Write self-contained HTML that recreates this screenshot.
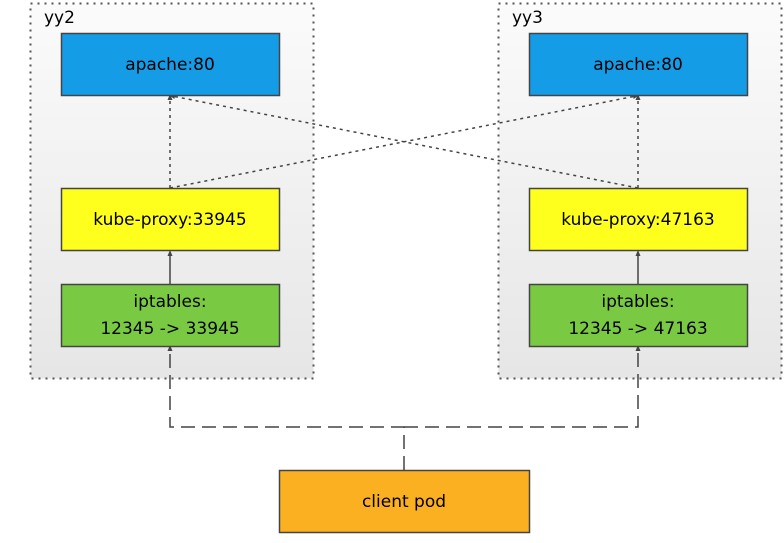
<!DOCTYPE html>
<html><head><style>
body{margin:0;width:784px;height:538px;background:#fff;overflow:hidden}
svg text{font-family:"DejaVu Sans","Liberation Sans",sans-serif;font-size:17px;fill:#000}
</style></head><body>
<svg width="784" height="538" xmlns="http://www.w3.org/2000/svg">
<defs>
<linearGradient id="g" x1="0" y1="0" x2="0" y2="1"><stop offset="0" stop-color="#fbfbfb"/><stop offset="1" stop-color="#e6e6e6"/></linearGradient>
<marker id="a" markerWidth="6" markerHeight="6" refX="3" refY="3" orient="auto" markerUnits="userSpaceOnUse"><path d="M0,0.5 L6,3 L0,5.5z" fill="#444"/></marker>
</defs>
<rect x="30.5" y="3.5" width="283" height="375" fill="url(#g)" stroke="#555" stroke-width="2" stroke-dasharray="2,5"/>
<rect x="498.5" y="3.5" width="283" height="375" fill="url(#g)" stroke="#555" stroke-width="2" stroke-dasharray="2,5"/>
<text x="44" y="23">yy2</text><text x="512" y="23">yy3</text>
<g stroke="#444" stroke-width="1.5" fill="none">
<path d="M170,188 V97" stroke-dasharray="3,4" marker-end="url(#a)"/>
<path d="M638,188 V97" stroke-dasharray="3,4" marker-end="url(#a)"/>
<path d="M170,188 L636,96" stroke-dasharray="3,4" marker-end="url(#a)"/>
<path d="M638,188 L172,96" stroke-dasharray="3,4" marker-end="url(#a)"/>
<path d="M170,284 V253" marker-end="url(#a)"/>
<path d="M638,284 V253" marker-end="url(#a)"/>
<path d="M404,470 V427 H170 V348" stroke-dasharray="14,7" marker-end="url(#a)"/>
<path d="M404,427 H638 V348" stroke-dasharray="14,7" marker-end="url(#a)"/>
</g>
<g stroke="#444" stroke-width="1.5">
<rect x="61.5" y="33.5" width="218" height="62" fill="#149de6"/>
<rect x="529.5" y="33.5" width="218" height="62" fill="#149de6"/>
<rect x="61.5" y="188.5" width="218" height="62" fill="#ffff1e"/>
<rect x="529.5" y="188.5" width="218" height="62" fill="#ffff1e"/>
<rect x="61.5" y="284.5" width="218" height="62" fill="#7ac943"/>
<rect x="529.5" y="284.5" width="218" height="62" fill="#7ac943"/>
<rect x="279.5" y="470.5" width="250" height="62" fill="#fbb021"/>
</g>
<g text-anchor="middle">
<text x="170" y="70">apache:80</text><text x="638" y="70">apache:80</text>
<text x="170" y="225">kube-proxy:33945</text><text x="638" y="225">kube-proxy:47163</text>
<text x="170" y="307">iptables:</text><text x="170" y="334">12345 -&gt; 33945</text>
<text x="638" y="307">iptables:</text><text x="638" y="334">12345 -&gt; 47163</text>
<text x="404" y="507">client pod</text>
</g>
</svg>
</body></html>
